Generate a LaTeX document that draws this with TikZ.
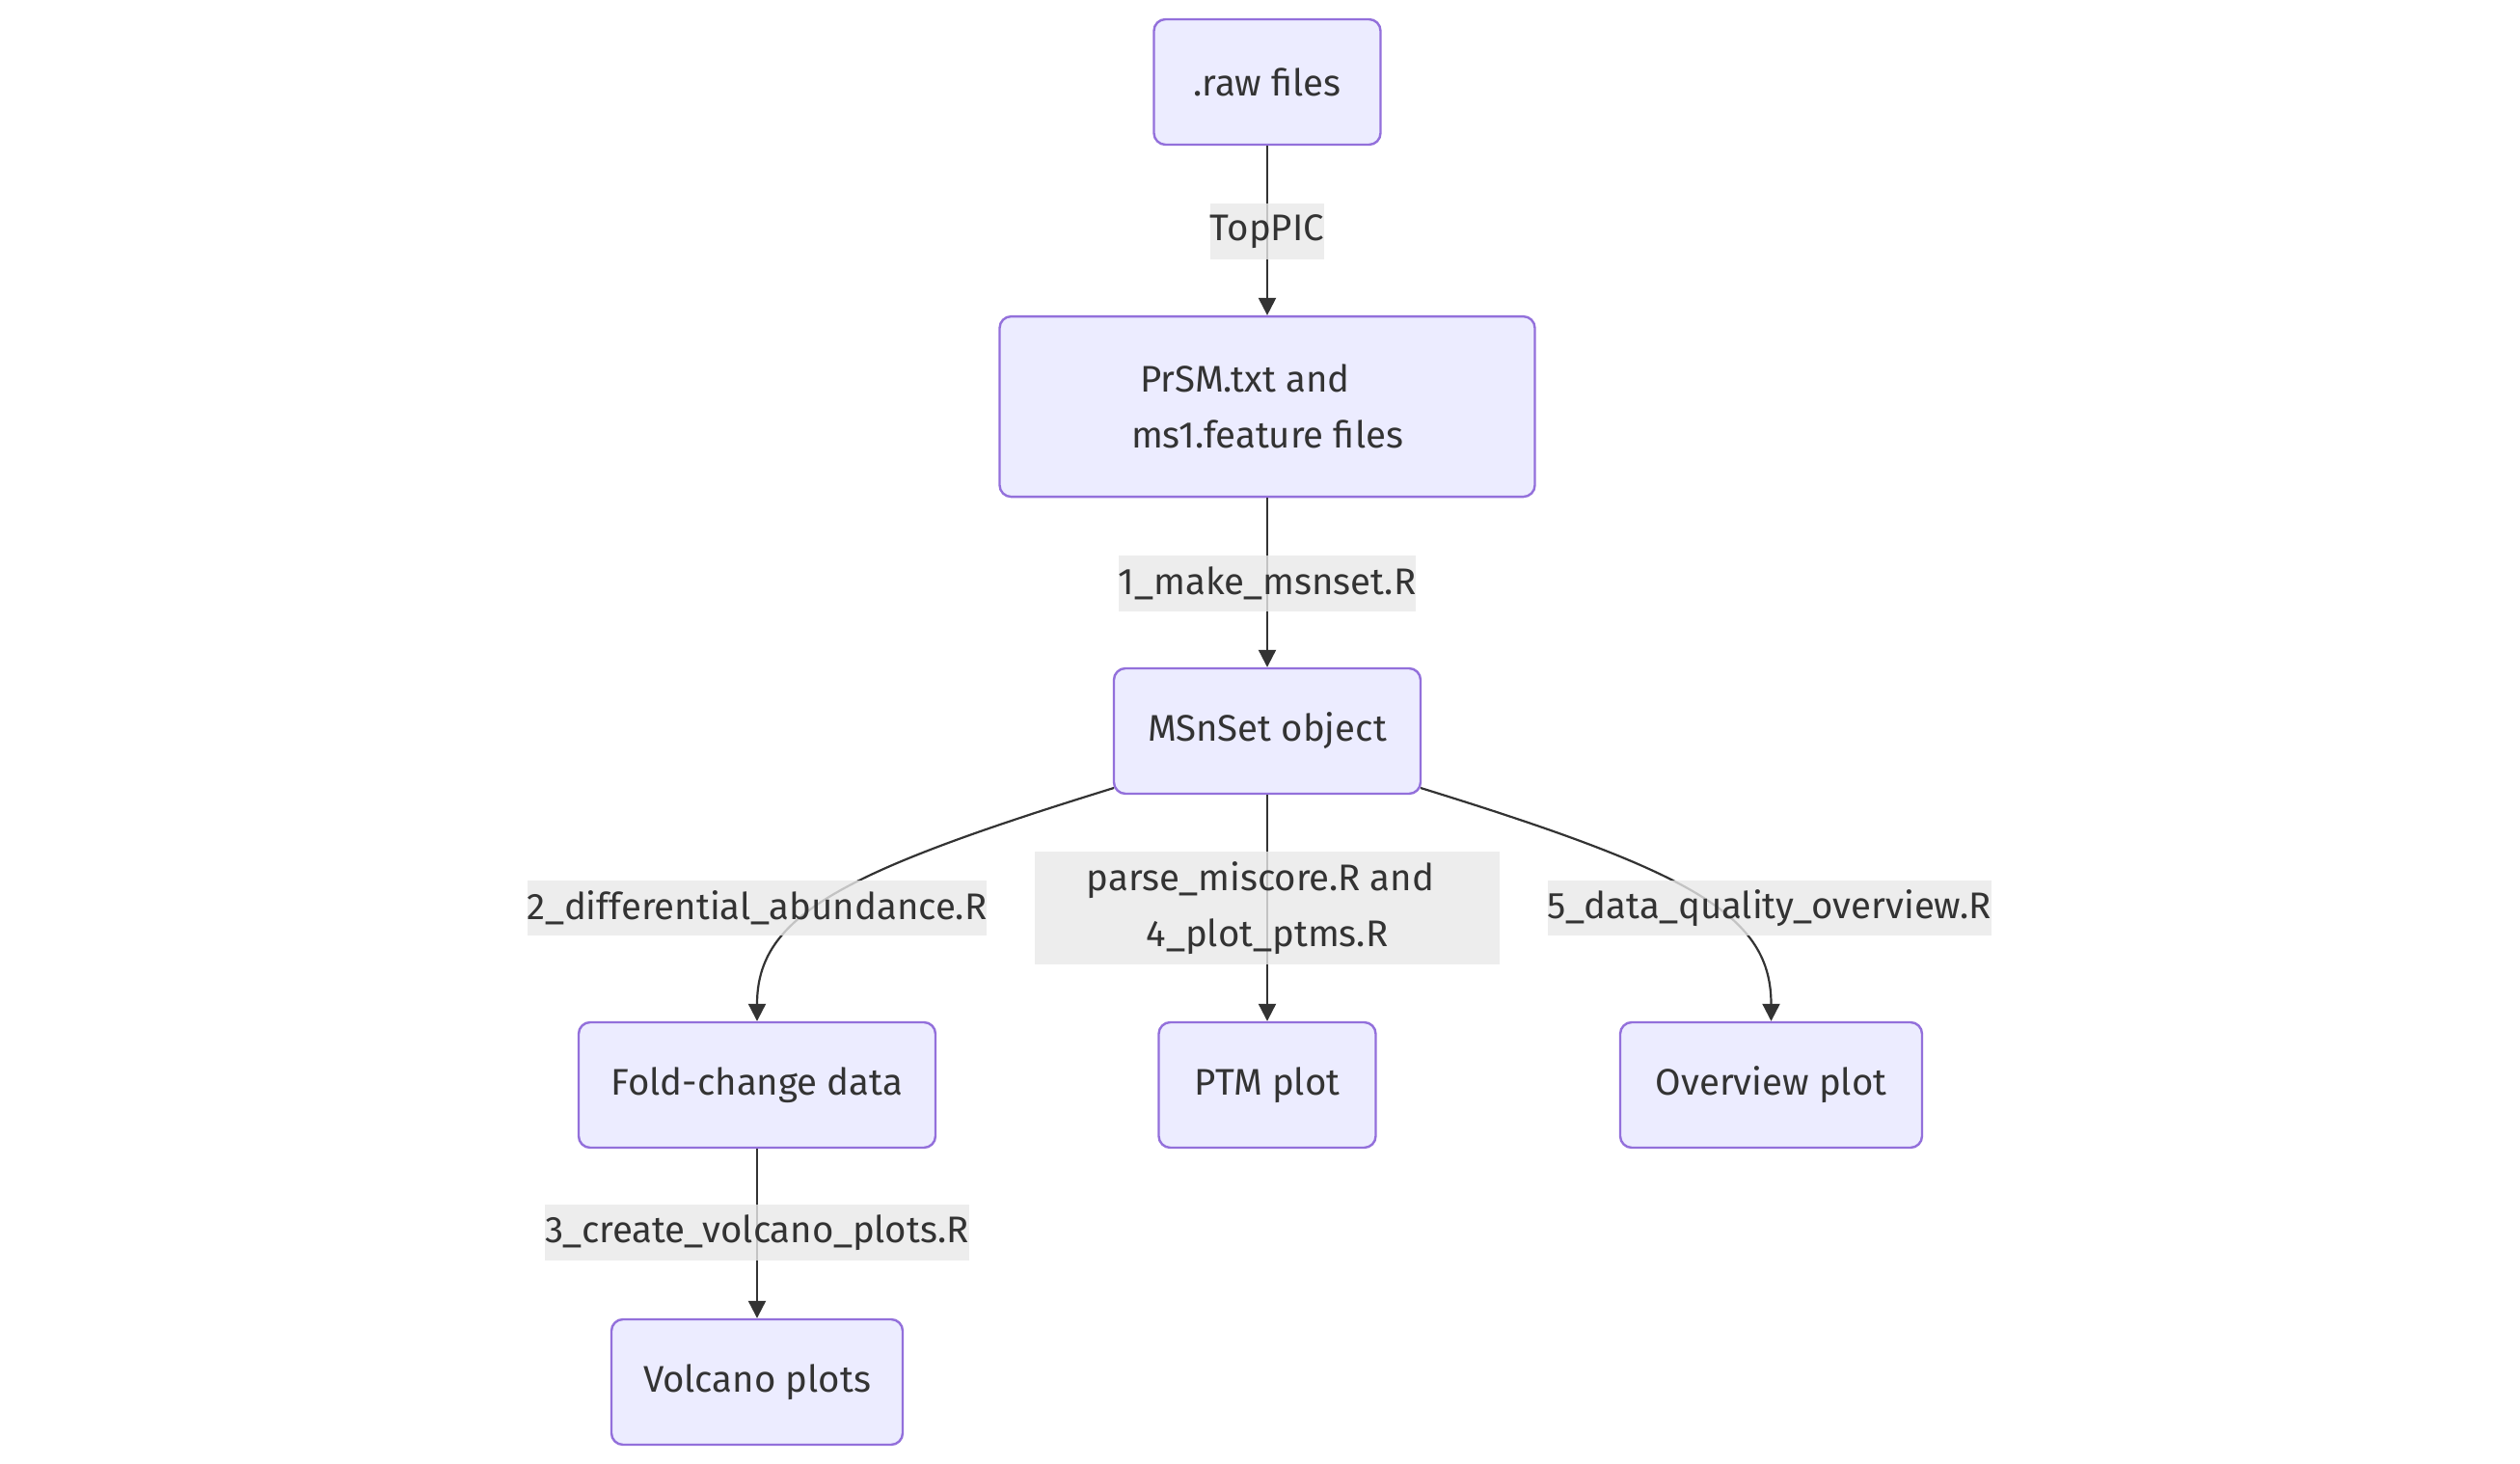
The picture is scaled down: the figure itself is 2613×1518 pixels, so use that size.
\documentclass[tikz,border=0pt]{standalone}
\usepackage{fontspec}
\setmainfont{Fira Sans}
\usetikzlibrary{arrows.meta}
\definecolor{nodefill}{HTML}{ECECFF}
\definecolor{nodeline}{HTML}{9370DB}
\definecolor{edgecol}{HTML}{333333}
\definecolor{labelbg}{HTML}{E8E8E8}
\definecolor{txt}{HTML}{333333}
\newcommand{\chartfont}{\fontsize{19.2}{28.8}\selectfont}
\begin{document}
\begin{tikzpicture}[x=0.5pt,y=-0.5pt,
  box/.style={draw=nodeline, fill=nodefill, line width=1.2pt, rounded corners=6pt,
    text=txt, font=\chartfont, align=center, inner sep=0pt, minimum height=65pt},
  lbl/.style={fill=labelbg, fill opacity=0.8, text opacity=1, text=txt, font=\chartfont,
    align=center, inner xsep=0pt, inner ysep=0pt, minimum height=28.8pt},
  flow/.style={draw=edgecol, line width=1.1pt, -{Triangle[length=9pt,width=9pt]}}]
  \useasboundingbox (0,0) rectangle (2613,1518);

  % nodes
  \node[box, minimum width=117.5pt] (raw) at (1314,85) {.raw files};
  \node[box, minimum width=277.5pt, minimum height=93.5pt] (prsm) at (1314,421.6)
    {PrSM.txt and\hspace*{23pt}\\ms1.feature files};
  \node[box, minimum width=159pt] (msn) at (1314,758) {MSnSet object};
  \node[box, minimum width=185pt] (fold) at (785,1125) {Fold-change data};
  \node[box, minimum width=112.5pt] (ptm) at (1314,1125) {PTM plot};
  \node[box, minimum width=156.5pt] (over) at (1836.5,1125) {Overview plot};
  \node[box, minimum width=151pt] (volc) at (785,1433) {Volcano plots};

  % free ends of the curved connectors
  \coordinate (msnL) at (1155,817);
  \coordinate (msnR) at (1473,817);

  % connectors
  \draw[flow] (raw.south) -- (prsm.north);
  \draw[flow] (prsm.south) -- (msn.north);
  \draw[flow] (msn.south) -- (ptm.north);
  \draw[flow] (msnL) .. controls (870,905) and (785,950) .. (fold.north);
  \draw[flow] (msnR) .. controls (1758,905) and (1836.5,950) .. (over.north);
  \draw[flow] (fold.south) -- (volc.north);

  % connector labels
  \node[lbl] (l1) at (1314,240) {TopPIC};
  \node[lbl] (l2) at (1314,605) {1\_make\_msnset.R};
  \node[lbl] (l3) at (785,941.5) {2\_differential\_abundance.R};
  \node[lbl, minimum width=241pt, minimum height=58.5pt] (l4) at (1314,941.5)
    {parse\_miscore.R and\hspace*{7pt}\\4\_plot\_ptms.R};
  \node[lbl] (l5) at (1835,941.5) {5\_data\_quality\_overview.R};
  \node[lbl] (l6) at (785,1278) {3\_create\_volcano\_plots.R};
\end{tikzpicture}
\end{document}
